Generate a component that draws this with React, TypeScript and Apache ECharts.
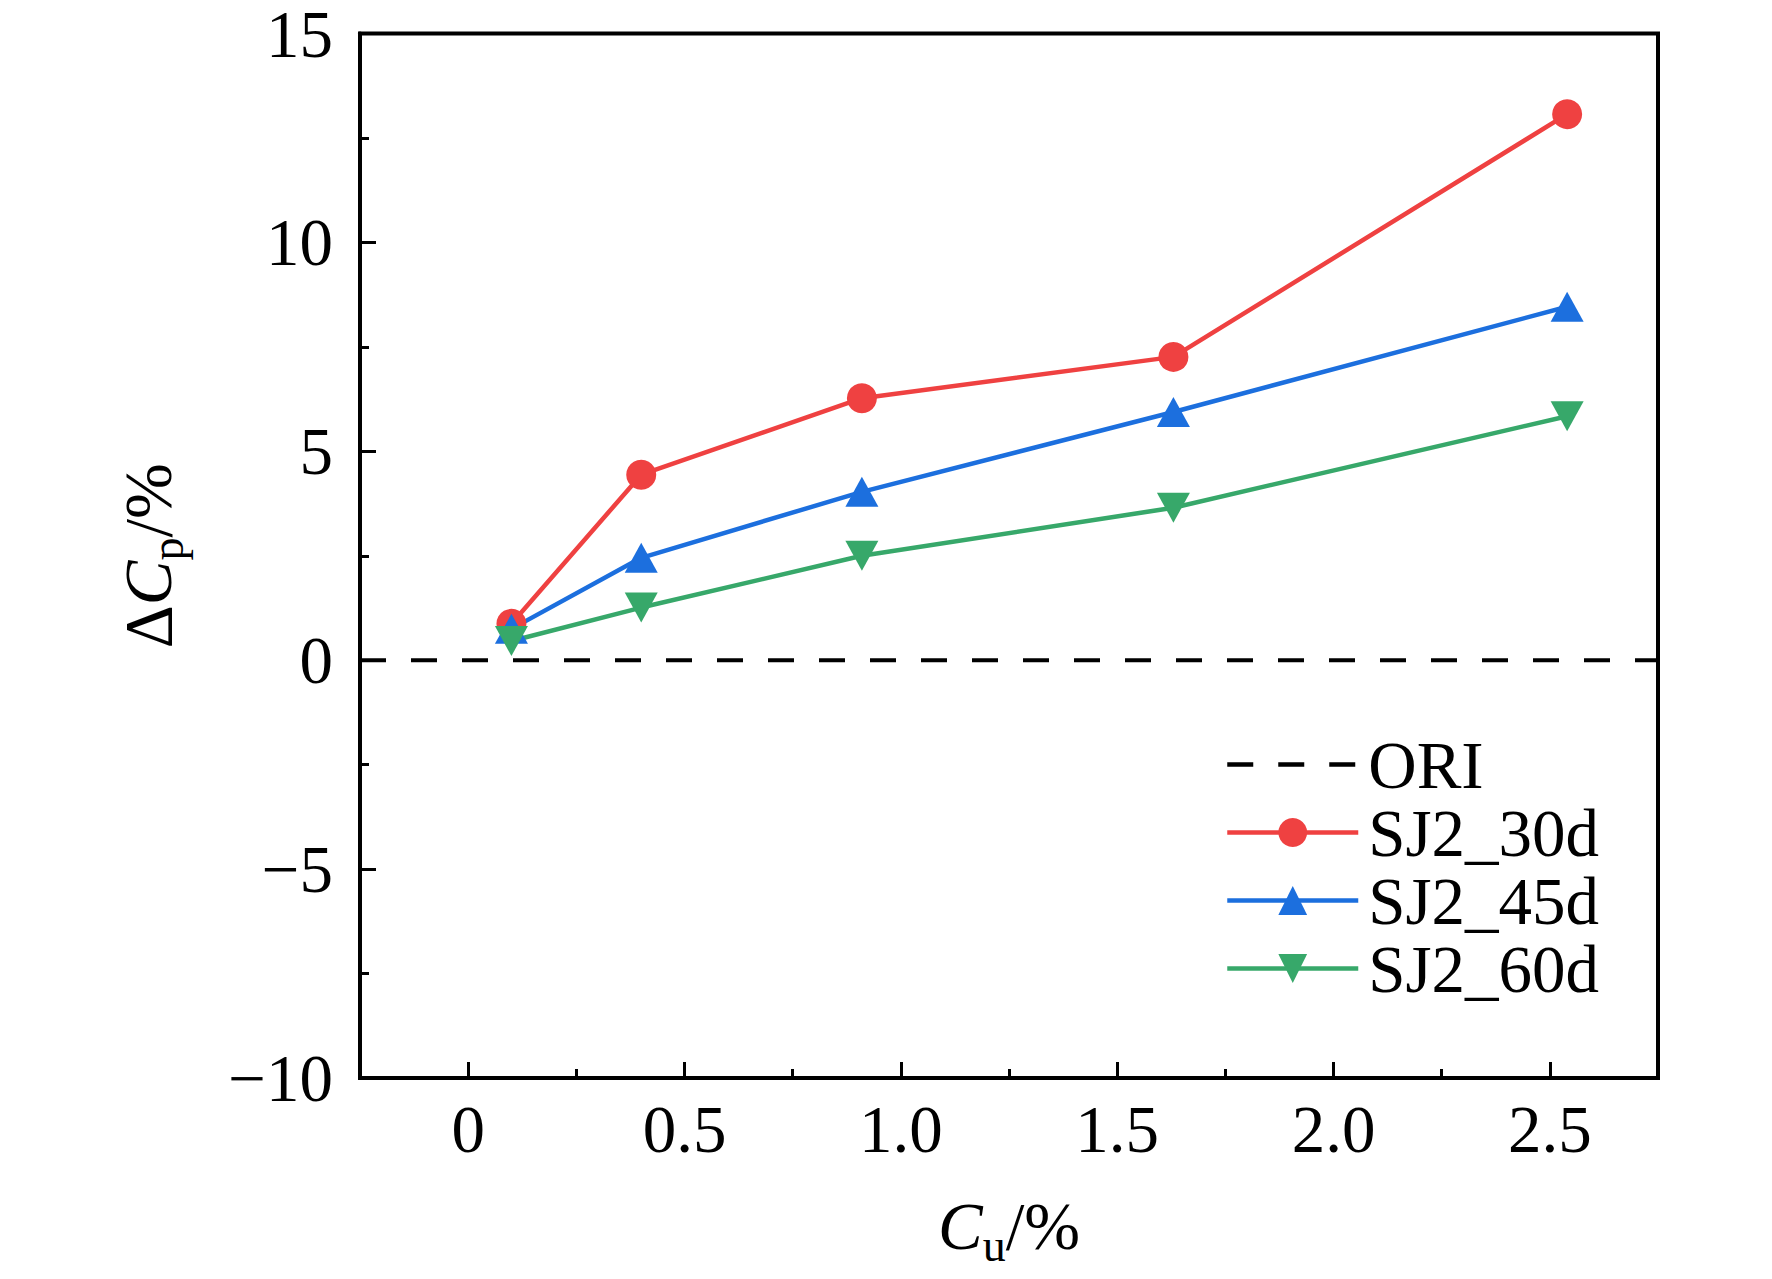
import React, { useEffect, useRef } from 'react';
import * as echarts from 'echarts';

const xValues = [0.1, 0.4, 0.91, 1.63, 2.54];
const sj30 = [0.87, 4.44, 6.27, 7.26, 13.07];
const sj45 = [0.75, 2.45, 4.03, 5.94, 8.46];
const sj60 = [0.46, 1.26, 2.5, 3.65, 5.84];
const oriX = [-0.25, 2.75];
const oriY = [0, 0];
const xMajorTicks = [0, 0.5, 1, 1.5, 2, 2.5];
const xMinorTicks = [0.25, 0.75, 1.25, 1.75, 2.25];
const xTickLabels = ['0', '0.5', '1.0', '1.5', '2.0', '2.5'];
const seriesNames = ['ORI', 'SJ2_30d', 'SJ2_45d', 'SJ2_60d'];
const colors = ['#000000', '#EF4141', '#1C6FDE', '#37A86A'];

const FONT = '"Liberation Serif", "Times New Roman", serif';
const FS = 67;

const pair = (xs: number[], ys: number[]) => xs.map((x, i) => [x, ys[i]]);

export default function App() {
  const ref = useRef<HTMLDivElement>(null);
  useEffect(() => {
    if (!ref.current) return;
    const chart = echarts.init(ref.current, undefined, { renderer: 'svg' });
    const nameRich = {
      i: { fontFamily: FONT, fontSize: FS, fontStyle: 'italic', color: '#000', lineHeight: FS, verticalAlign: 'top' },
      d: { fontFamily: FONT, fontSize: FS, color: '#000', lineHeight: FS, verticalAlign: 'top' },
      s: { fontFamily: FONT, fontSize: 46, color: '#000', lineHeight: 76, verticalAlign: 'bottom' },
      n: { fontFamily: FONT, fontSize: FS, color: '#000', lineHeight: FS, verticalAlign: 'top' },
    };
    const tickStyle = { color: '#000', width: 3 };
    const option: any = {
      animation: false,
      backgroundColor: '#fff',
      grid: {
        left: 360, top: 32, width: 1298, height: 1046,
        show: true, borderColor: '#000', borderWidth: 4, backgroundColor: 'transparent',
      },
      legend: {
        orient: 'vertical',
        left: 1220,
        top: 726,
        itemWidth: 131,
        itemHeight: 36,
        itemGap: 1,
        textStyle: { fontFamily: FONT, fontSize: FS, color: '#000', padding: [0, 0, 0, 5] },
        data: [
          { name: seriesNames[0], itemStyle: { opacity: 0 }, lineStyle: { width: 4.5 } },
          { name: seriesNames[1], lineStyle: { width: 4.5 } },
          { name: seriesNames[2], lineStyle: { width: 4.5 } },
          { name: seriesNames[3], lineStyle: { width: 4.5 } },
        ],
      },
      xAxis: [
        {
          type: 'value', min: -0.25, max: 2.75,
          name: '{i|C}{s|u}{n|/%}',
          nameLocation: 'middle', nameGap: 114,
          nameTextStyle: { rich: nameRich },
          axisLine: { show: true, onZero: false, lineStyle: { color: '#000', width: 4 } },
          axisTick: { show: true, inside: true, length: 16, lineStyle: tickStyle, customValues: xMajorTicks },
          axisLabel: {
            show: true, margin: 17, fontFamily: FONT, fontSize: FS, color: '#000',
            customValues: xMajorTicks,
            formatter: (v: number) => {
              const idx = xMajorTicks.findIndex((t) => Math.abs(t - v) < 1e-6);
              return idx >= 0 ? xTickLabels[idx] : '';
            },
          },
          splitLine: { show: false },
        },
        {
          type: 'value', min: -0.25, max: 2.75, position: 'bottom',
          axisLine: { show: false, onZero: false },
          axisTick: { show: true, inside: true, length: 9, lineStyle: tickStyle, customValues: xMinorTicks },
          axisLabel: { show: false },
          splitLine: { show: false },
        },
      ],
      yAxis: {
        type: 'value', min: -10, max: 15, interval: 5,
        name: '{d|Δ}{i|C}{s|p}{n|/%}',
        nameLocation: 'middle', nameGap: 170, nameRotate: 90,
        nameTextStyle: { rich: nameRich },
        axisLine: { show: true, onZero: false, lineStyle: { color: '#000', width: 4 } },
        axisTick: { show: true, inside: true, length: 16, lineStyle: tickStyle },
        minorTick: { show: true, splitNumber: 2, length: 9, lineStyle: tickStyle },
        axisLabel: {
          margin: 27, fontFamily: FONT, fontSize: FS, lineHeight: 46, color: '#000',
          formatter: (v: number) => (v < 0 ? '\u2212' + Math.abs(v) : String(v)),
        },
        splitLine: { show: false },
        minorSplitLine: { show: false },
      },
      series: [
        {
          name: seriesNames[0], type: 'line', data: pair(oriX, oriY),
          symbol: 'none', color: colors[0],
          lineStyle: { color: colors[0], width: 4, type: [26, 25] },
          z: 1,
        },
        {
          name: seriesNames[1], type: 'line', data: pair(xValues, sj30),
          symbol: 'circle', symbolSize: 30, color: colors[1],
          lineStyle: { color: colors[1], width: 4.5 },
          itemStyle: { color: colors[1] },
        },
        {
          name: seriesNames[2], type: 'line', data: pair(xValues, sj45),
          symbol: 'triangle', symbolSize: [33, 30], color: colors[2],
          lineStyle: { color: colors[2], width: 4.5 },
          itemStyle: { color: colors[2] },
        },
        {
          name: seriesNames[3], type: 'line', data: pair(xValues, sj60),
          symbol: 'path://M0,0 L20,0 L10,20 Z', symbolSize: [33, 30], color: colors[3],
          lineStyle: { color: colors[3], width: 4.5 },
          itemStyle: { color: colors[3] },
        },
      ],
    };
    chart.setOption(option);
    return () => chart.dispose();
  }, []);
  return (
    <div
      ref={ref}
      style={{ position: 'absolute', left: 0, top: 0, width: 1772, height: 1279, background: '#fff' }}
    />
  );
}
